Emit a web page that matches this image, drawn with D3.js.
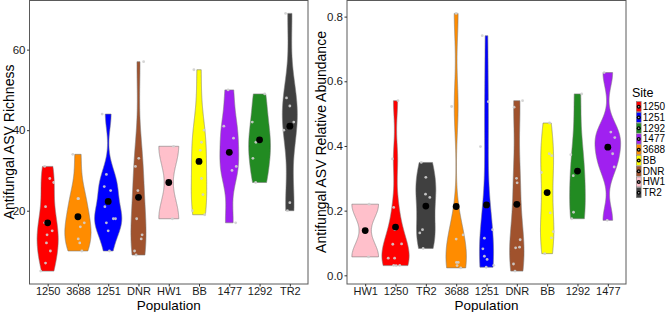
<!DOCTYPE html>
<html>
<head>
<meta charset="utf-8">
<script src="https://cdn.jsdelivr.net/npm/d3@7"></script>
<style>
  body { margin: 0; background: #fff; }
  text { font-family: "Liberation Sans", Arial, sans-serif; }
</style>
</head>
<body>
<script>
// site colours (legend order)
var sites = ["1250", "1251", "1292", "1477", "3688", "BB", "DNR", "HW1", "TR2"];
var siteColors = ["#FF0000", "#0000FF", "#228B22", "#A020F0", "#FF8C00", "#FFFF00", "#A0522D", "#FFC0CB", "#404040"];

// left panel: richness, x order
var richOrder = ["1250", "3688", "1251", "DNR", "HW1", "BB", "1477", "1292", "TR2"];
var richValues = [
  [31, 28, 27, 21, 17, 15, 14, 12, 10, 7, 5],
  [34, 23, 23, 17, 16, 13, 12, 10],
  [44, 29, 26, 25, 21, 18, 18, 17, 15, 10],
  [57, 31, 33, 25, 18, 14, 13, 10, 9],
  [36, 18],
  [55, 40, 37, 35, 28, 24, 20, 19],
  [50, 41, 38, 31, 30, 17],
  [49, 42, 37, 33, 27],
  [69, 48, 46, 42, 40, 22, 20]
];
// horizontal jitter of the sample dots, in category widths
var richJitter = [
  [-0.1, 0.07, 0.2, -0.07, -0.1, 0.15, -0.02, -0.04, 0.09, -0.07, -0.23],
  [-0.17, 0, 0.02, 0.21, 0.08, 0.01, 0.06, 0.13],
  [-0.2, -0.06, -0.13, 0.08, -0.11, 0.17, 0.24, -0.06, 0, 0.04],
  [0.17, -0.1, 0.01, -0.02, -0.06, 0.12, 0.09, -0.13, -0.08],
  [0.16, 0.12],
  [-0.17, 0.17, 0.08, 0.04, 0.08, 0.13, -0.22, 0.19],
  [-0.04, -0.18, 0.14, 0.23, 0.09, 0.21],
  [0.17, -0.24, -0.12, -0.22, -0.13],
  [-0.14, -0.11, 0, 0.13, -0.2, 0, -0.08]
];
var richTicks = [20, 40, 60];

// right panel: relative abundance, x order
var abundOrder = ["HW1", "1250", "TR2", "3688", "1251", "DNR", "BB", "1292", "1477"];
var abundValues = [
  [0.22, 0.057],
  [0.54, 0.36, 0.21, 0.141, 0.096, 0.097, 0.053, 0.053, 0.031, 0.031, 0.03],
  [0.349, 0.303, 0.251, 0.241, 0.141, 0.131, 0.083],
  [0.81, 0.522, 0.112, 0.125, 0.04, 0.04, 0.023, 0.03],
  [0.741, 0.537, 0.398, 0.141, 0.115, 0.082, 0.059, 0.049, 0.031, 0.025],
  [0.54, 0.52, 0.30, 0.286, 0.11, 0.085, 0.087, 0.035, 0.013],
  [0.471, 0.376, 0.37, 0.318, 0.193, 0.135, 0.116, 0.067],
  [0.561, 0.373, 0.308, 0.195, 0.175],
  [0.627, 0.443, 0.426, 0.376, 0.335, 0.17]
];
var abundJitter = [
  [0.13, 0.11],
  [0.08, -0.1, -0.06, -0.02, -0.09, 0.2, -0.24, -0.03, -0.06, 0.14, 0.02],
  [-0.15, 0, -0.01, 0.13, -0.11, -0.2, -0.09],
  [0, -0.15, 0, 0.23, 0.01, 0.07, 0.15, 0.03],
  [-0.14, 0.06, -0.2, 0.2, -0.07, -0.12, -0.07, 0.02, 0.24, -0.01],
  [0.19, -0.09, -0.01, 0.01, 0.11, -0.04, 0.09, -0.11, -0.06],
  [0.08, 0.07, 0.15, -0.19, 0.1, 0.2, 0.14, -0.08],
  [0.14, -0.22, -0.14, -0.13, -0.19],
  [-0.12, 0.1, 0.23, 0.16, 0.21, -0.02]
];
var abundTicks = [0, 0.2, 0.4, 0.6, 0.8];

var width = 669, height = 312;
var plotTop = 0.5, plotBottom = 284;
var color = d3.scaleOrdinal().domain(sites).range(siteColors);

var svg = d3.select("body").append("svg").attr("width", width).attr("height", height);

// bandwidth like R's bw.nrd0
function bwNrd0(v) {
  var s = v.slice().sort(d3.ascending);
  var sd = d3.deviation(s);
  var iqr = d3.quantileSorted(s, 0.75) - d3.quantileSorted(s, 0.25);
  var lo = Math.min(sd, iqr / 1.34);
  if (!lo) lo = sd || Math.abs(s[0]) || 1;
  return 0.9 * lo * Math.pow(v.length, -0.2);
}

// gaussian kde, trimmed to data range
function density(v) {
  var bw = bwNrd0(v);
  var lo = d3.min(v), hi = d3.max(v);
  var out = [];
  for (var i = 0; i < 512; i++) {
    var t = lo + (hi - lo) * i / 511;
    var sum = 0;
    v.forEach(function (x) {
      var u = (t - x) / bw;
      sum += Math.exp(-0.5 * u * u) / Math.sqrt(2 * Math.PI);
    });
    out.push({ v: t, d: sum / (v.length * bw) });
  }
  return out;
}

function panel(opts) {
  var g = svg.append("g");
  var all = d3.merge(opts.values);
  var ext = d3.extent(all);
  var pad = (ext[1] - ext[0]) * 0.05;
  var y = d3.scaleLinear().domain([ext[0] - pad, ext[1] + pad]).range([plotBottom, plotTop]);
  var x = d3.scalePoint().domain(opts.order).range([opts.x0, opts.x1]).padding(0.6);
  var step = x.step();

  var dens = opts.values.map(density);
  var maxD = d3.max(dens, function (d) { return d3.max(d, function (p) { return p.d; }); });

  // violins
  opts.order.forEach(function (site, i) {
    var cx = x(site);
    var area = d3.area()
      .x0(function (p) { return cx - 0.45 * step * p.d / maxD; })
      .x1(function (p) { return cx + 0.45 * step * p.d / maxD; })
      .y(function (p) { return y(p.v); });
    g.append("path").attr("d", area(dens[i])).attr("fill", color(site))
      .attr("stroke", "#7a7a7a").attr("stroke-width", 0.6);
  });

  // jittered samples
  opts.order.forEach(function (site, i) {
    g.selectAll(null).data(opts.values[i]).enter().append("circle")
      .attr("cx", function (d, j) { return x(site) + opts.jitter[i][j] * step; })
      .attr("cy", function (d) { return y(d); })
      .attr("r", 1.4).attr("fill", "#d0d0d0").attr("opacity", 0.9);
  });

  // means
  g.selectAll(null).data(opts.order).enter().append("circle")
    .attr("cx", function (d) { return x(d); })
    .attr("cy", function (d, i) { return y(d3.mean(opts.values[i])); })
    .attr("r", 3.4).attr("fill", "#000");

  g.append("rect").attr("x", opts.x0).attr("y", plotTop).attr("width", opts.x1 - opts.x0)
    .attr("height", plotBottom - plotTop).attr("fill", "none").attr("stroke", "#5a5a5a").attr("stroke-width", 1);

  // axes
  var ya = g.append("g").attr("transform", "translate(" + opts.x0 + ",0)")
    .call(d3.axisLeft(y).tickValues(opts.ticks).tickSize(2.5).tickPadding(1.5).tickFormat(opts.fmt));
  ya.select(".domain").remove();
  ya.selectAll("line").attr("stroke", "#333");
  ya.selectAll("text").attr("font-size", "11.5px").attr("fill", "#1a1a1a")
    .attr("font-family", "Liberation Sans, Arial, sans-serif");

  var xa = g.append("g").attr("transform", "translate(0," + plotBottom + ")")
    .call(d3.axisBottom(x).tickSize(2.5));
  xa.select(".domain").remove();
  xa.selectAll("line").attr("stroke", "#333");
  xa.selectAll("text").attr("y", 11.3).attr("dy", null).attr("font-size", "11px").attr("fill", "#1a1a1a")
    .attr("font-family", "Liberation Sans, Arial, sans-serif");

  g.append("text").attr("x", (opts.x0 + opts.x1) / 2).attr("y", 309.8)
    .attr("text-anchor", "middle").attr("font-size", "13.5px").text("Population");
  g.append("text").attr("transform", "translate(" + opts.titleX + ",142) rotate(-90)")
    .attr("text-anchor", "middle").attr("font-size", "14px").text(opts.title);
}

panel({ order: richOrder, values: richValues, jitter: richJitter, ticks: richTicks,
  x0: 29.5, x1: 308, fmt: d3.format("d"), title: "Antifungal ASV Richness", titleX: 13.5 });
panel({ order: abundOrder, values: abundValues, jitter: abundJitter, ticks: abundTicks,
  x0: 347, x1: 626, fmt: d3.format(".1f"), title: "Antifungal ASV Relative Abundance", titleX: 325.5 });

// legend
var legend = svg.append("g");
legend.append("text").attr("x", 632).attr("y", 97.3).attr("font-size", "12.5px").text("Site");
var keyH = 10.75, keyTop = 101.3;
var keys = legend.selectAll(".key").data(sites).enter().append("g").attr("class", "key")
  .attr("transform", function (d, i) { return "translate(636," + (keyTop + i * keyH) + ")"; });
keys.append("rect").attr("width", 5.5).attr("height", keyH).attr("fill", "#d9d9d9");
keys.append("rect").attr("x", 0.4).attr("y", 0.4).attr("width", 4.7).attr("height", keyH - 0.8)
  .attr("fill", function (d) { return color(d); }).attr("stroke", "#7a7a7a").attr("stroke-width", 0.5);
keys.append("circle").attr("cx", 2.75).attr("cy", keyH / 2).attr("r", 2).attr("fill", "#000");
keys.append("circle").attr("cx", 2.75).attr("cy", keyH / 2).attr("r", 0.7).attr("fill", "#cfcfcf");
keys.append("text").attr("x", 6.8).attr("y", keyH / 2).attr("dy", "0.35em")
  .attr("font-size", "10px").text(function (d) { return d; });
</script>
</body>
</html>
